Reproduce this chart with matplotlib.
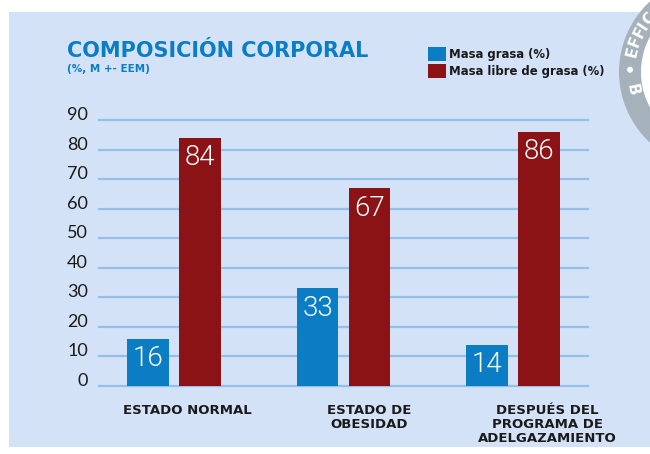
import matplotlib
matplotlib.use("Agg")
import matplotlib.pyplot as plt
import numpy as np
from matplotlib.patches import Rectangle, Circle

# composición corporal por estado
categorias = ["ESTADO NORMAL", "ESTADO DE\nOBESIDAD", "DESPUÉS DEL\nPROGRAMA DE\nADELGAZAMIENTO"]
masa_grasa = [16, 33, 14]
masa_libre = [84, 67, 86]
yticks = [0, 10, 20, 30, 40, 50, 60, 70, 80, 90]

AZUL = "#0A7DC4"
ROJO = "#8C1315"
FONDO = "#D3E2F6"
REJILLA = "#93BFE8"
TEXTO = "#1A1A1A"
SELLO = "#A6B2BB"

plt.rcParams["font.family"] = ["Lato", "DejaVu Sans"]
NEGRITA = ["DejaVu Sans"]
FINA = ["Roboto", "DejaVu Sans"]

W, H = 650, 454
fig = plt.figure(figsize=(W / 100, H / 100), dpi=100)
fig.patch.set_facecolor("white")

# capa de fondo en píxeles
bg = fig.add_axes([0, 0, 1, 1], zorder=0)
bg.set_xlim(0, W)
bg.set_ylim(H, 0)
bg.axis("off")
bg.add_patch(Rectangle((9, 12), W - 9, 435, facecolor=FONDO, edgecolor="none"))

# sello gris de la esquina
cx, cy, R = 715, 72, 96
bg.add_patch(Circle((cx, cy), R, facecolor=SELLO, edgecolor="none"))
bg.add_patch(Circle((cx, cy), R - 22, facecolor="white", edgecolor="none"))
r_txt = R - 11
for letra, ang in zip("EFFIC", [166, 159, 152.5, 147, 141]):
    a = np.radians(ang)
    bg.text(cx + r_txt * np.cos(a), cy - r_txt * np.sin(a), letra, color="white",
            fontsize=11, fontweight="bold", fontfamily=NEGRITA, rotation=ang - 90,
            ha="center", va="center")
a = np.radians(178.5)
bg.add_patch(Circle((cx + r_txt * np.cos(a), cy - r_txt * np.sin(a)), 3, facecolor="white"))
ang = 192
a = np.radians(ang)
bg.text(cx + r_txt * np.cos(a), cy - r_txt * np.sin(a), "B", color="white",
        fontsize=11, fontweight="bold", fontfamily=NEGRITA, rotation=ang + 90,
        ha="center", va="center")

# gráfico de barras
ax = fig.add_axes([99 / W, 1 - 386 / H, (588 - 99) / W, (386 - 120) / H], zorder=1)
ax.patch.set_alpha(0)
x = np.arange(len(categorias))
ancho = 0.247
b1 = ax.bar(x - 0.153, masa_grasa, ancho, color=AZUL, zorder=3, label="Masa grasa (%)")
b2 = ax.bar(x + 0.153, masa_libre, ancho, color=ROJO, zorder=3, label="Masa libre de grasa (%)")

for barras in (b1, b2):
    for rect in barras:
        v = rect.get_height()
        ax.annotate(f"{v:g}", (rect.get_x() + rect.get_width() / 2, v),
                    xytext=(0, -14.5), textcoords="offset points",
                    ha="center", va="center", color="white",
                    fontsize=20, fontweight=300, fontfamily=FINA, zorder=4)

ax.set_xlim(-0.44, 2.44)
ax.set_ylim(0, 90)
ax.set_yticks(yticks)
ax.set_yticklabels([str(t) for t in yticks], va="baseline")
ax.tick_params(axis="y", length=0, pad=8, labelsize=13, labelcolor=TEXTO)
ax.set_xticks([])
ax.grid(axis="y", color=REJILLA, linewidth=1.6, zorder=1)
for g in ax.get_ygridlines():
    g.set_clip_on(False)
for s in ax.spines.values():
    s.set_visible(False)

# etiquetas de categoría
desplaz = [0.08, 0.15, 0.2]
for xi, d, cat in zip(x, desplaz, categorias):
    ax.text(xi + d, -18 / 266, cat, transform=ax.get_xaxis_transform(),
            ha="center", va="top", fontsize=9.5, fontweight="bold",
            fontfamily=NEGRITA, color=TEXTO, linespacing=1.1)

# títulos
fig.text(67 / W, 1 - 57 / H, "COMPOSICIÓN CORPORAL", color=AZUL,
         fontsize=15, fontweight="bold", fontfamily=NEGRITA, va="baseline")
fig.text(67 / W, 1 - 72 / H, "(%, M +- EEM)", color=AZUL,
         fontsize=7.5, fontweight="bold", fontfamily=NEGRITA, va="baseline")

fig.legend(handles=[b1, b2], loc="upper left", bbox_to_anchor=(422 / W, 1 - 41 / H),
           frameon=False, borderpad=0, handlelength=1.55, handleheight=1.55,
           handletextpad=0.3, labelspacing=0.2,
           prop={"size": 8.4, "weight": "bold", "family": NEGRITA}, labelcolor=TEXTO)

fig.savefig("out.png", dpi=100)
